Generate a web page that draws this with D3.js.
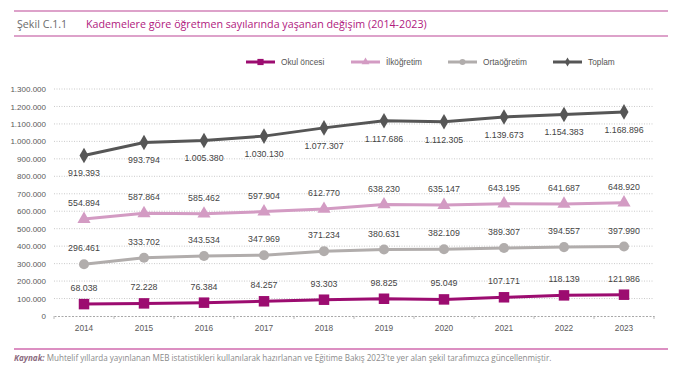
<!DOCTYPE html>
<html>
<head>
<meta charset="utf-8">
<script src="https://cdn.jsdelivr.net/npm/d3@7"></script>
<style>
  body { margin: 0; background: #fff; }
</style>
</head>
<body>
<script>
// data
const years = ["2014", "2015", "2016", "2017", "2018", "2019", "2020", "2021", "2022", "2023"];
const okulOncesi = [68038, 72228, 76384, 84257, 93303, 98825, 95049, 107171, 118139, 121986];
const ilkogretim = [554894, 587864, 585462, 597904, 612770, 638230, 635147, 643195, 641687, 648920];
const ortaogretim = [296461, 333702, 343534, 347969, 371234, 380631, 382109, 389307, 394557, 397990];
const toplam = [919393, 993794, 1005380, 1030130, 1077307, 1117686, 1112305, 1139673, 1154383, 1168896];
const yTicks = d3.range(0, 1300001, 100000);

const width = 700, height = 385;

const series = [
  { name: "Okul öncesi", values: okulOncesi, color: "#9c0c70", symbol: d3.symbolSquare, size: 110, labelDy: -13 },
  { name: "İlköğretim", values: ilkogretim, color: "#d39bc3", symbol: d3.symbolTriangle, size: 75, labelDy: -13 },
  { name: "Ortaöğretim", values: ortaogretim, color: "#b1adac", symbol: d3.symbolCircle, size: 80, labelDy: -13 },
  { name: "Toplam", values: toplam, color: "#565656", symbol: d3.symbolDiamond, size: 70, labelDy: 21 }
];

const fmt = v => d3.format(",")(v).replace(/,/g, ".");

const svg = d3.select("body").append("svg")
  .attr("width", width)
  .attr("height", height)
  .attr("font-family", "Liberation Sans, Arial, sans-serif");

// header lines
svg.append("line").attr("x1", 14).attr("x2", 668).attr("y1", 11).attr("y2", 11)
  .attr("stroke", "#d283b8").attr("stroke-width", 1.5);
svg.append("line").attr("x1", 14).attr("x2", 668).attr("y1", 36).attr("y2", 36)
  .attr("stroke", "#d283b8").attr("stroke-width", 1.5);

svg.append("text").text("Şekil C.1.1")
  .attr("x", 17).attr("y", 28)
  .attr("font-family", "Open Sans").attr("font-size", 10.7)
  .attr("fill", "#6b6b6b");
svg.append("text").text("Kademelere göre öğretmen sayılarında yaşanan değişim (2014-2023)")
  .attr("x", 86).attr("y", 28)
  .attr("font-family", "Open Sans").attr("font-size", 10.7)
  .attr("fill", "#b0197e");

// scales
const x = d3.scaleBand().domain(years).range([54, 654]);
const y = d3.scaleLinear().domain([0, 1300000]).range([316, 89]);
const cx = d => x(d) + x.bandwidth() / 2;

// grid
svg.append("g").selectAll("line")
  .data(yTicks.filter(d => d > 0))
  .join("line")
  .attr("x1", 54).attr("x2", 654)
  .attr("y1", d => y(d)).attr("y2", d => y(d))
  .attr("stroke", "#bdbdbd").attr("stroke-width", 0.8)
  .attr("stroke-dasharray", "1,1.5");

// y axis labels
const yAxis = svg.append("g")
  .attr("transform", "translate(46,0)")
  .call(d3.axisLeft(y).tickValues(yTicks).tickSize(0).tickPadding(0).tickFormat(fmt));
yAxis.select(".domain").remove();
yAxis.selectAll("text").attr("font-size", 8).attr("fill", "#5a5a5a")
  .attr("font-family", "Liberation Sans, Arial, sans-serif");

// x axis
const xAxis = svg.append("g")
  .attr("transform", "translate(0,316)")
  .call(d3.axisBottom(x).tickSize(0).tickPadding(9));
xAxis.select(".domain").attr("stroke", "#a8a8a8").attr("stroke-dasharray", "2,1.5");
xAxis.selectAll("text").attr("font-size", 8.3).attr("fill", "#5a5a5a")
  .attr("font-family", "Liberation Sans, Arial, sans-serif");
// band boundary ticks
svg.append("g").selectAll("line")
  .data(years.concat(["end"]))
  .join("line")
  .attr("x1", (d, i) => i < years.length ? x(d) : x.range()[1])
  .attr("x2", (d, i) => i < years.length ? x(d) : x.range()[1])
  .attr("y1", 316).attr("y2", 319)
  .attr("stroke", "#a8a8a8").attr("stroke-width", 0.8);

// lines, markers, labels
const line = d3.line().x((d, i) => cx(years[i])).y(d => y(d));

for (const s of series) {
  const g = svg.append("g");
  g.append("path")
    .datum(s.values)
    .attr("d", line)
    .attr("fill", "none")
    .attr("stroke", s.color)
    .attr("stroke-width", 3);
  g.selectAll("path.mark")
    .data(s.values)
    .join("path")
    .attr("class", "mark")
    .attr("d", d3.symbol(s.symbol, s.size))
    .attr("transform", (d, i) => `translate(${cx(years[i])},${y(d)})`)
    .attr("fill", s.color);
  g.selectAll("text")
    .data(s.values)
    .join("text")
    .attr("x", (d, i) => cx(years[i]))
    .attr("y", d => y(d) + s.labelDy)
    .attr("text-anchor", "middle")
    .attr("font-size", 8.8)
    .attr("fill", "#444")
    .text(fmt);
}

// legend
const legendX = [246, 351, 448, 553];
series.forEach((s, i) => {
  const lg = svg.append("g").attr("transform", `translate(${legendX[i]},62)`);
  lg.append("line").attr("x1", 0).attr("x2", 29).attr("y1", 0).attr("y2", 0)
    .attr("stroke", s.color).attr("stroke-width", 3);
  lg.append("path").attr("d", d3.symbol(s.symbol, s.size * 0.35))
    .attr("transform", "translate(14.5,0)").attr("fill", s.color);
  lg.append("text").text(s.name)
    .attr("x", 35).attr("y", 3)
    .attr("font-size", 8.3).attr("fill", "#555");
});

// footer
svg.append("line").attr("x1", 14).attr("x2", 668).attr("y1", 349).attr("y2", 349)
  .attr("stroke", "#d06aae").attr("stroke-width", 1.5);
const src = svg.append("text")
  .attr("x", 14).attr("y", 361)
  .attr("font-family", "Open Sans").attr("font-size", 8.1)
  .attr("fill", "#8a8a8a");
src.append("tspan").text("Kaynak:")
  .attr("font-style", "italic").attr("font-weight", "bold").attr("fill", "#8c6b80");
src.append("tspan").text(" Muhtelif yıllarda yayınlanan MEB istatistikleri kullanılarak hazırlanan ve Eğitime Bakış 2023'te yer alan şekil tarafımızca güncellenmiştir.");
</script>
</body>
</html>
